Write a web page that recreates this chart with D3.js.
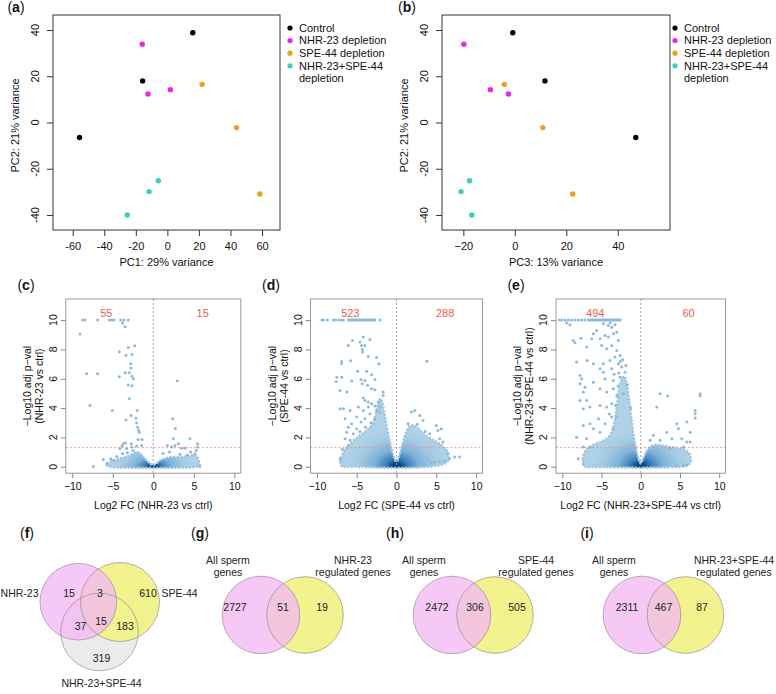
<!DOCTYPE html>
<html><head><meta charset="utf-8">
<script src="https://cdn.jsdelivr.net/npm/d3@7"></script>
<style>body{margin:0;background:#fff}svg{display:block}</style>
</head><body><script>
// ---------------- DATA ----------------
const FONT = '"Liberation Sans", Arial, Helvetica, sans-serif';
const pcaLegend = [["Control"],["NHR-23 depletion"],["SPE-44 depletion"],["NHR-23+SPE-44","depletion"]];
const pcaColors = ["#000000","#ee22ee","#e8a21e","#3ccfbf"];
const pcaGroupOf = [0,0,0,1,1,1,2,2,2,3,3,3];
const pc1 = [16.1,-15.7,-55.7,-15.9,-12.3,1.9,22.0,43.8,58.6,-5.7,-11.6,-25.4];
const pc2 = [38.8,18.0,-6.5,33.9,12.3,14.2,16.5,-2.2,-30.9,-25.2,-29.9,-40.0];
const pc3 = [-0.8,11.7,47.0,-19.8,-2.5,-9.5,-4.1,10.9,22.5,-17.6,-20.9,-16.7];
const pc1Ticks = [-60,-40,-20,0,20,40,60];
const pc3Ticks = [-20,0,20,40];
const pc2Ticks = [-40,-20,0,20,40];

const volcXTicks = [-10,-5,0,5,10];
const volcYTicks = [0,2,4,6,8,10];
const volcCounts = [[55,15],[523,288],[494,60]];
const volcComparisons = ["NHR-23 vs ctrl","SPE-44 vs ctrl","NHR-23+SPE-44 vs ctrl"];

// significant / isolated genes (log2FC, -log10 adj p)
const nhrPts = [[-8.72,10],[-8.44,10],[-6.87,10],[-5.43,10],[-5.14,10],[-4.86,10],[-4.03,10],[-3.62,10],[-3.09,10],
[-3.79,9.8],[-3.5,9.55],[-9.05,9.05],[-3.09,8.14],[-2.3,8.25],[-4.2,7.84],[-3.37,7.61],[-2.63,7.66],[-2.8,7.02],[-2.76,6.73],
[-3.46,6.41],[-2.96,6.41],[-8.23,6.34],[-6.87,6.34],[-4.2,6.14],[-2.63,6.18],[-2.47,6.0],[-3.09,5.57],[-2.63,5.52],[-2.96,4.64],
[-7.82,4.18],[-5.06,3.84],[-1.98,3.84],[-2.72,3.5],[-3.37,3.18],[-2.14,3.32],[-2.06,2.98],[-1.93,2.7],[-1.81,2.48],[-1.73,2.36],
[-1.89,1.86],[-1.4,1.86],[-3.7,1.57],[-3.42,1.64],[-2.72,1.57],[-3.87,1.41],[-2.67,1.34],[-2.06,1.41],[-1.44,1.45],[-4.12,1.23],
[-3.29,1.23],[-6.17,0.5],[-5.27,0.55],[-7.41,0.02],[-5.76,0.2],[-4.5,0.7],[-3.8,0.9],[-2.5,1.1],[-4.9,0.45],[-3.2,0.95],
[2.96,5.86],[2.39,3.27],[2.72,2.61],[2.47,1.91],[3.09,1.57],[4.53,1.91],[5.47,1.57],[5.47,1.34],[1.73,1.45],[2.26,1.34],
[2.67,1.45],[3.5,1.27],[3.91,1.27],[5.14,0.89],[5.76,0.02],[1.2,0.9],[2.0,1.0],[4.6,1.0],[5.3,1.1],[3.3,0.85],[4.2,0.8]];
const spePts = [[-9.38,10],[-9.17,10],[-8.67,10],[-7.92,10],[-7.63,10],[-7.21,10],[-6.88,10],[-6.67,10],[-2.08,10],
[-4.17,8.84],[-5.54,8.61],[-4.58,8.5],[-3.33,8.68],[-6.04,8.27],[-4.38,8.27],[-3.96,8.27],[-4.29,8.0],[-4.25,7.82],[-3.54,7.52],
[-6.88,7.18],[-5.75,7.23],[-2.5,7.45],[-2.21,7.02],[-6.88,7.02],[3.83,7.2],[-4.88,6.52],[-3.75,6.52],[-3.13,6.27],[-7.5,6.11],
[-6.88,6.11],[-7.58,5.82],[-5.63,5.86],[-4.46,5.95],[-3.96,5.89],[-2.71,5.95],[-4.29,5.66],[-3.63,5.55],[-3.13,5.32],[-2.71,5.25],
[-7.08,5.2],[-6.25,5.09],[-1.67,5.09],[-1.67,4.86],[-4.17,4.68],[-3.96,4.52],[-3.54,4.41],[-3.13,4.3],[-2.29,4.41],[-4.79,4.07],
[-3.54,4.07],[-2.71,4.14],[-2.08,4.07],[-7.08,3.95],[-6.67,3.95],[-5.83,3.84],[-4.17,3.84],[-2.5,3.84],[-2.08,3.73],[-3.33,3.61],
[-6.46,3.27],[-5.0,3.39],[-3.96,3.27],[-2.71,3.27],[-5.63,2.93],[-4.46,3.05],[-6.04,2.7],[-5.0,2.59],[-6.25,2.36],[-5.42,2.25],
[-5.83,1.8],[-6.46,1.91],[-6.04,1.45],[-7.08,0.55],[-4.6,2.4],[-3.9,2.7],[-3.2,3.0],[-6.8,1.2],
[1.88,3.73],[2.29,3.84],[2.92,3.5],[3.33,3.16],[1.46,2.93],[5.0,2.82],[5.21,2.48],[5.63,2.59],[4.17,2.25],[5.42,1.91],[5.83,1.68],
[6.46,0.89],[7.29,0.66],[7.92,0.66],[6.67,0.55],[4.38,0.27],[4.79,0.32],[5.42,0.36],[6.04,0.43],[3.96,0.55],[2.6,2.9],[3.6,2.4]];
const bothPts = [[-10.38,10],[-10.09,10],[-9.66,10],[-9.23,10],[-8.81,10],[-8.38,10],[-7.96,10],[-7.53,10],[-7.11,10],
[-9.45,9.82],[-9.02,9.68],[-4.77,9.75],[-3.91,9.82],[-4.13,9.64],[-3.7,9.52],[-3.28,9.68],[-8.6,8.61],[-8.38,8.45],[-7.62,8.77],
[-6.04,9.07],[-5.62,9.3],[-6.25,8.73],[-5.19,8.73],[-4.55,8.95],[-4.13,8.84],[-3.49,9.07],[-3.06,9.18],[-2.85,8.61],[-6.89,8.16],
[-4.98,8.27],[-4.34,8.05],[-3.7,8.27],[-3.06,7.93],[-8.17,7.14],[-6.81,7.25],[-6.04,7.02],[-4.77,7.02],[-3.91,7.25],[-3.28,7.48],
[-2.64,7.59],[-2.85,7.02],[-5.19,6.68],[-4.77,6.45],[-3.7,6.68],[-2.43,6.8],[-2.0,6.45],[-7.74,6.23],[-7.53,6.0],[-6.04,5.77],
[-4.55,6.0],[-3.49,5.89],[-2.64,6.11],[-7.74,5.66],[-7.11,5.43],[-7.32,5.09],[-6.89,4.52],[-5.19,5.32],[-4.34,5.09],[-3.49,5.32],
[-3.06,4.86],[-2.21,4.98],[-7.74,4.52],[-7.32,3.95],[-6.47,4.07],[-5.19,4.18],[-4.34,4.07],[-3.7,4.3],[-5.4,3.27],[-4.55,2.93],
[-3.7,3.39],[-6.47,2.93],[-6.04,2.59],[-5.19,2.36],[-8.17,2.02],[-7.32,2.82],[-6.89,1.91],[-6.47,1.34],[-7.32,1.34],[-7.96,0.55],[-7.32,0.2],
[-3.4,6.3],[-2.9,5.5],[-3.2,4.2],[-4.0,3.6],[-2.6,7.2],[-2.3,7.3],[-1.9,6.9],[-2.8,6.4],[-1.7,5.6],[-3.1,3.4],[-3.5,2.6],[-1.3,4.0],
[2.47,4.98],[3.4,4.82],[2.04,4.07],[4.6,2.93],[4.81,2.59],[6.94,3.84],[6.94,3.61],[6.94,3.32],[7.57,4.98],[7.57,4.82],[5.87,3.05],
[6.3,2.36],[3.32,2.36],[3.96,1.91],[1.62,2.14],[1.19,1.8],[2.47,1.8],[5.23,1.91],[5.87,1.68],[6.3,1.68],[5.45,1.34],[3.74,1.23],
[5.45,0.09],[5.87,0.14],[4.6,0.09]];
// dense runs of genes capped at -log10 p = 10 (from, to log2FC)
const speCapRun = [-6.04,-2.71];
const bothCapRun = [-6.68,-2.64];
// outline of the dense point cloud in each volcano (log2FC, -log10 p)
const nhrCloud = [[-5.9,-0.05],[-5.7,0.3],[-5,0.4],[-4.5,0.5],[-4,0.6],[-3.5,0.65],[-3,0.75],[-2.5,0.9],[-2,1.05],[-1.6,0.95],[-1.2,0.65],
[-0.7,0.35],[-0.3,0.15],[0,0.1],[0.4,0.2],[0.8,0.45],[1.5,0.6],[2,0.65],[2.5,0.7],[3,0.65],[3.5,0.65],[4,0.7],[4.5,0.75],[5,0.85],
[5.4,0.75],[5.7,0.3],[5.9,-0.05],[3,-0.08],[0,-0.08],[-3,-0.08]];
const speCloud = [[-7.0,-0.05],[-7.1,0.4],[-6.8,0.9],[-6.3,1.35],[-5.6,1.7],[-5.0,2.0],[-4.2,2.3],[-3.4,2.6],[-2.8,3.1],[-2.5,3.8],
[-2.3,4.5],[-1.9,4.8],[-1.6,3.9],[-1.2,2.7],[-0.8,1.6],[-0.4,0.7],[0,0.15],[0.4,0.8],[0.8,1.7],[1.2,2.4],[1.6,2.8],[2.1,2.9],
[2.8,2.6],[3.5,2.2],[4.3,1.9],[5.0,1.7],[5.8,1.45],[6.4,1.1],[6.6,0.6],[6.4,0.25],[5.5,0.1],[4.5,0.02],[3,-0.05],[0,-0.08],[-3,-0.05],[-5,0.0],[-6.3,0.0]];
const bothCloud = [[-7.3,-0.05],[-7.45,0.6],[-7.1,1.15],[-6.3,1.45],[-5.3,1.65],[-4.4,1.85],[-3.8,2.2],[-3.4,2.8],[-3.15,3.7],[-2.95,4.6],
[-2.75,5.4],[-2.5,6.0],[-2.1,6.3],[-1.75,5.7],[-1.5,4.7],[-1.25,3.6],[-1.0,2.4],[-0.6,1.2],[-0.25,0.4],[0,0.15],[0.25,0.45],[0.6,0.95],
[1.1,1.35],[1.8,1.55],[2.8,1.45],[3.8,1.35],[4.8,1.3],[5.7,1.15],[6.3,0.9],[6.5,0.4],[6.1,0.05],[5,-0.03],[0,-0.08],[-5,-0.03],[-6.8,-0.02]];

const vennFSets = ["NHR-23","SPE-44","NHR-23+SPE-44"];
// regions: NHR only, NHR&SPE only, SPE only, NHR&both only, all three, SPE&both only, both only
const vennFCounts = [15,3,610,37,15,183,319];
const vennPairLeft = ["All sperm","genes"];
const vennPairRight = [["NHR-23","regulated genes"],["SPE-44","regulated genes"],["NHR-23+SPE-44","regulated genes"]];
const vennPairCounts = [[2727,51,19],[2472,306,505],[2311,467,87]];

// ---------------- DRAW ----------------
const svg = d3.select("body").append("svg").attr("width",776).attr("height",694)
  .style("font-family",FONT);
const defs = svg.append("defs");

function panelLabel(x,y,l){
  const t = svg.append("text").attr("x",x).attr("y",y).attr("text-anchor","middle").attr("font-size",14).attr("fill","#111");
  t.append("tspan").text("(");
  t.append("tspan").attr("font-weight","bold").text(l);
  t.append("tspan").text(")");
}

function pca(cfg){
  const g = svg.append("g");
  const top=15, bot=230;
  const x = d3.scaleLinear().domain(cfg.xDom).range([cfg.left,cfg.right]);
  const y = d3.scaleLinear().domain([-46.5,46.5]).range([bot,top]);
  const xa = g.append("g").attr("transform",`translate(0,${bot})`)
    .call(d3.axisBottom(x).tickValues(cfg.xTicks).tickSize(6).tickPadding(6).tickFormat(cfg.fmt))
    .attr("font-family",FONT).attr("font-size",11).attr("color","#333");
  xa.select(".domain").remove();
  xa.selectAll("text").attr("fill","#111");
  const ya = g.append("g").attr("transform",`translate(${cfg.left},0)`)
    .call(d3.axisLeft(y).tickValues(pc2Ticks).tickSize(6).tickFormat(""))
    .attr("color","#333");
  ya.select(".domain").remove();
  g.selectAll(null).data(pc2Ticks).join("text")
    .attr("transform",d=>`translate(${cfg.left-14},${y(d)}) rotate(-90)`)
    .attr("text-anchor","middle").attr("font-size",11).attr("fill","#111").text(d=>String(d));
  g.append("rect").attr("x",cfg.left).attr("y",top).attr("width",cfg.right-cfg.left).attr("height",bot-top)
    .attr("fill","none").attr("stroke","#333").attr("stroke-width",1);
  g.selectAll("circle.p").data(cfg.xs).join("circle")
    .attr("cx",d=>x(d)).attr("cy",(d,i)=>y(pc2[i])).attr("r",2.7)
    .attr("fill",(d,i)=>pcaColors[pcaGroupOf[i]]);
  g.append("text").attr("x",(cfg.left+cfg.right)/2).attr("y",266).attr("text-anchor","middle")
    .attr("font-size",11).attr("fill","#111").text(cfg.xTitle);
  g.append("text").attr("transform",`translate(${cfg.left-34},${(top+bot)/2+3}) rotate(-90)`)
    .attr("text-anchor","middle").attr("font-size",11).attr("fill","#111").text("PC2: 21% variance");
  const rows = [];
  pcaLegend.forEach((lines,gi)=>lines.forEach((ln,li)=>rows.push({gi,li,ln})));
  const lg = g.append("g");
  rows.forEach((r,k)=>{
    const yy = 28 + k*12.6;
    if(r.li===0) lg.append("circle").attr("cx",cfg.legX).attr("cy",yy).attr("r",2.6).attr("fill",pcaColors[r.gi]);
    lg.append("text").attr("x",cfg.legX+9).attr("y",yy).attr("dy","0.35em").attr("font-size",11).attr("fill","#111").text(r.ln);
  });
}

pca({left:53,right:280,xDom:[-72.5,71.4],xTicks:pc1Ticks,xs:pc1,fmt:d=>String(d),xTitle:"PC1: 29% variance",legX:290});
pca({left:442,right:670,xDom:[-28.3,60.3],xTicks:pc3Ticks,xs:pc3,fmt:d=>d<0?"−"+Math.abs(d):String(d),xTitle:"PC3: 13% variance",legX:675});
panelLabel(16,12,"a");
panelLabel(407,12,"b");

function volcano(cfg, idx){
  const g = svg.append("g");
  const top=299, bot=473.2;
  const x = d3.scaleLinear().domain([-10.8,10.8]).range([cfg.left,cfg.right]);
  const y = d3.scaleLinear().domain([-0.44,11.44]).range([bot,top]);
  const clipId = "clip"+idx;
  defs.append("clipPath").attr("id",clipId).append("rect").attr("x",cfg.left).attr("y",top).attr("width",cfg.right-cfg.left).attr("height",bot-top);
  const ox = x(0), oy = y(0);
  const gid = "grad"+idx;
  const gr = defs.append("radialGradient").attr("id",gid).attr("gradientUnits","userSpaceOnUse")
    .attr("cx",ox).attr("cy",oy).attr("r",cfg.gr)
    .attr("gradientTransform",`translate(${ox},${oy}) scale(1,${cfg.gs}) translate(${-ox},${-oy})`);
  [[0,"#08306b"],[0.1,"#0d4a8c"],[0.22,"#3a80bb"],[0.45,"#7db2d8"],[0.75,"#a3cae3"],[1,"#b0d2e7"]]
    .forEach(([o,c])=>gr.append("stop").attr("offset",o).attr("stop-color",c));
  const pg = g.append("g").attr("clip-path",`url(#${clipId})`);
  const cloudPath = d3.line().x(d=>x(d[0])).y(d=>y(d[1])).curve(d3.curveBasisClosed)(cfg.cloud);
  pg.append("path").attr("d",cloudPath).attr("fill",`url(#${gid})`);
  // speckled edge of the dense cloud
  pg.append("path").attr("d",cloudPath).attr("fill","none").attr("stroke","#9cc6e1")
    .attr("stroke-width",2.6).attr("stroke-linecap","round").attr("stroke-dasharray","0 3.6");
  if(cfg.cap){
    pg.append("line").attr("x1",x(cfg.cap[0])).attr("x2",x(cfg.cap[1])).attr("y1",y(10)).attr("y2",y(10))
      .attr("stroke","#8dbad8").attr("stroke-width",3).attr("stroke-linecap","round");
  }
  pg.selectAll("circle").data(cfg.pts).join("circle")
    .attr("cx",d=>x(d[0])).attr("cy",d=>y(d[1])).attr("r",1.5).attr("fill","#8dbad8");
  g.append("line").attr("x1",ox).attr("x2",ox).attr("y1",top).attr("y2",bot)
    .attr("stroke","#999").attr("stroke-width",0.9).attr("stroke-dasharray","2,2");
  g.append("line").attr("x1",cfg.left).attr("x2",cfg.right).attr("y1",y(-Math.log10(0.05))).attr("y2",y(-Math.log10(0.05)))
    .attr("stroke","#f08a80").attr("stroke-width",0.9).attr("stroke-dasharray","2,2");
  g.append("text").attr("x",x(-5.8)).attr("y",y(10.48)).attr("dy","0.35em").attr("text-anchor","middle")
    .attr("font-size",11).attr("fill","#e4634f").text(volcCounts[idx][0]);
  g.append("text").attr("x",x(6.1)).attr("y",y(10.48)).attr("dy","0.35em").attr("text-anchor","middle")
    .attr("font-size",11).attr("fill","#e4634f").text(volcCounts[idx][1]);
  g.append("rect").attr("x",cfg.left).attr("y",top).attr("width",cfg.right-cfg.left).attr("height",bot-top)
    .attr("fill","none").attr("stroke","#999").attr("stroke-width",1);
  const xa = g.append("g").attr("transform",`translate(0,${bot})`)
    .call(d3.axisBottom(x).tickValues(volcXTicks).tickSize(5).tickPadding(4).tickFormat(d=>d<0?"−"+Math.abs(d):String(d)))
    .attr("font-family",FONT).attr("font-size",10.5).attr("color","#888");
  xa.select(".domain").remove();
  xa.selectAll("text").attr("fill","#111");
  const ya = g.append("g").attr("transform",`translate(${cfg.left},0)`)
    .call(d3.axisLeft(y).tickValues(volcYTicks).tickSize(5).tickFormat("")).attr("color","#888");
  ya.select(".domain").remove();
  g.selectAll(null).data(volcYTicks).join("text")
    .attr("transform",d=>`translate(${cfg.left-9},${y(d)}) rotate(-90)`)
    .attr("text-anchor","middle").attr("font-size",10.5).attr("fill","#111").text(d=>String(d));
  g.append("text").attr("x",(cfg.left+cfg.right)/2).attr("y",509).attr("text-anchor","middle")
    .attr("font-size",10.5).attr("fill","#111").text("Log2 FC ("+volcComparisons[idx]+")");
  const my = (top+bot)/2;
  g.append("text").attr("transform",`translate(${cfg.left-35},${my}) rotate(-90)`)
    .attr("text-anchor","middle").attr("font-size",10.5).attr("fill","#111").text("−Log10 adj p−val");
  g.append("text").attr("transform",`translate(${cfg.left-23},${my}) rotate(-90)`)
    .attr("text-anchor","middle").attr("font-size",10.5).attr("fill","#111").text("("+volcComparisons[idx]+")");
}
volcano({left:65.8,right:240.8,cloud:nhrCloud,pts:nhrPts,cap:null,gr:40,gs:0.55},0);
volcano({left:310.5,right:482.5,cloud:speCloud,pts:spePts,cap:speCapRun,gr:50,gs:0.75},1);
volcano({left:556,right:725.5,cloud:bothCloud,pts:bothPts,cap:bothCapRun,gr:50,gs:0.75},2);
panelLabel(26,290,"c");
panelLabel(271,290,"d");
panelLabel(516,290,"e");

// ---- Venn diagrams ----
const PINK="rgba(242,186,242,0.8)", YEL="#f2f28e", GRAY="#ebebeb";
const vstroke = "#8a7d8a";
function vennCircles(list){
  list.forEach(c=>svg.append("circle").attr("cx",c[0]).attr("cy",c[1]).attr("r",c[2]).attr("fill",c[3]));
  list.forEach(c=>svg.append("circle").attr("cx",c[0]).attr("cy",c[1]).attr("r",c[2]).attr("fill","none")
    .attr("stroke",vstroke).attr("stroke-width",0.7).attr("stroke-opacity",0.85));
}
function vtext(x,y,t,anchor){
  svg.append("text").attr("x",x).attr("y",y).attr("dy","0.35em").attr("text-anchor",anchor||"middle")
    .attr("font-size",10.5).attr("fill","#222").text(t);
}
vennCircles([[99.5,632,38.8,GRAY],[120,602,39.5,YEL],[78.3,601.7,38.3,PINK]]);
const fPos = [[69,593],[100,593],[148,593],[80.5,626],[101,621],[125,626],[101.5,658]];
vennFCounts.forEach((c,i)=>vtext(fPos[i][0],fPos[i][1],c));
vtext(38.5,593,vennFSets[0],"end");
vtext(161.5,593,vennFSets[1],"start");
vtext(101.5,683,vennFSets[2]);
panelLabel(27,538,"f");
const pairCx = [[261,305],[452,495],[642,685.5]];
const pairTextX = [[235,283,322],[437,475,517],[627,663.5,702]];
const pairLabX = [[228,353],[424,536],[614,734]];
["g","h","i"].forEach((l,k)=>{
  vennCircles([[pairCx[k][1],615,38.3,YEL],[pairCx[k][0],615,38.8,PINK]]);
  vennPairCounts[k].forEach((c,i)=>vtext(pairTextX[k][i],607,c));
  vtext(pairLabX[k][0],560,vennPairLeft[0]); vtext(pairLabX[k][0],572,vennPairLeft[1]);
  vtext(pairLabX[k][1],560,vennPairRight[k][0]); vtext(pairLabX[k][1],572,vennPairRight[k][1]);
});
panelLabel(200,538,"g");
panelLabel(395,538,"h");
panelLabel(587,538,"i");
</script></body></html>
